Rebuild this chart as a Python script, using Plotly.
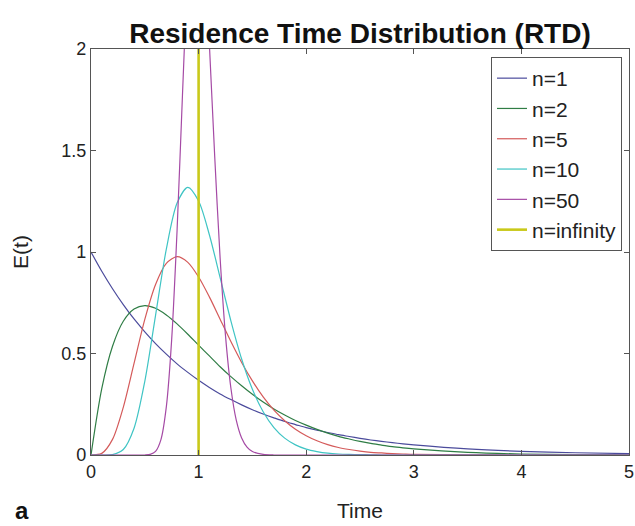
import plotly.graph_objects as go

# Time samples for the tanks-in-series curves
t_grid = [0.0, 0.1, 0.2, 0.3, 0.4, 0.5, 0.6, 0.7, 0.8, 0.9, 1.0,
          1.1, 1.2, 1.3, 1.4, 1.5, 1.6, 1.7, 1.8, 1.9, 2.0,
          2.1, 2.2, 2.3, 2.4, 2.5, 2.6, 2.7, 2.8, 2.9, 3.0,
          3.5, 4.0, 4.5, 5.0]

e_n1 = [1.000, 0.905, 0.819, 0.741, 0.670, 0.607, 0.549, 0.497, 0.449, 0.407, 0.368,
        0.333, 0.301, 0.273, 0.247, 0.223, 0.202, 0.183, 0.165, 0.150, 0.135,
        0.122, 0.111, 0.100, 0.091, 0.082, 0.074, 0.067, 0.061, 0.055, 0.050,
        0.030, 0.018, 0.011, 0.007]

e_n2 = [0.000, 0.327, 0.536, 0.659, 0.719, 0.736, 0.723, 0.690, 0.646, 0.595, 0.541,
        0.488, 0.435, 0.386, 0.341, 0.299, 0.261, 0.227, 0.197, 0.170, 0.147,
        0.126, 0.108, 0.092, 0.079, 0.067, 0.057, 0.049, 0.041, 0.035, 0.030,
        0.013, 0.005, 0.002, 0.001]

e_n5 = [0.000, 0.008, 0.077, 0.235, 0.451, 0.668, 0.840, 0.944, 0.977, 0.949, 0.877,
        0.779, 0.669, 0.559, 0.456, 0.365, 0.286, 0.221, 0.169, 0.127, 0.095,
        0.070, 0.051, 0.037, 0.027, 0.019, 0.013, 0.010, 0.007, 0.005, 0.003,
        0.001, 0.000, 0.000, 0.000]

e_n10 = [0.000, 0.000, 0.002, 0.027, 0.132, 0.363, 0.688, 1.014, 1.241, 1.318, 1.251,
         1.085, 0.874, 0.661, 0.473, 0.324, 0.213, 0.135, 0.083, 0.050, 0.029,
         0.017, 0.009, 0.005, 0.003, 0.002, 0.001, 0.000, 0.000, 0.000, 0.000,
         0.000, 0.000, 0.000, 0.000]

# The n=50 curve is much narrower, so it gets its own finer time samples
t_n50 = [0.0, 0.4, 0.5, 0.55, 0.6, 0.65, 0.7, 0.75, 0.8, 0.85, 0.9, 0.95, 1.0,
         1.05, 1.1, 1.15, 1.2, 1.25, 1.3, 1.35, 1.4, 1.45, 1.5, 1.6, 1.7, 1.8, 5.0]
e_n50 = [0.000, 0.000, 0.000, 0.003, 0.018, 0.076, 0.237, 0.571, 1.107, 1.772, 2.394,
         2.779, 2.817, 2.525, 2.025, 1.468, 0.970, 0.588, 0.330, 0.172, 0.084,
         0.039, 0.017, 0.003, 0.000, 0.000, 0.000]

# Plug flow (n = infinity): a spike at the mean residence time
t_inf = [1.0, 1.0]
e_inf = [0.0, 2.0]

series_names = ["n=1", "n=2", "n=5", "n=10", "n=50", "n=infinity"]
series_x = [t_grid, t_grid, t_grid, t_grid, t_n50, t_inf]
series_y = [e_n1, e_n2, e_n5, e_n10, e_n50, e_inf]
series_colors = ["#4b4b9c", "#2f7d45", "#d45a5a", "#3fc4c4", "#a54aa5", "#c9c91a"]
series_widths = [1.2, 1.2, 1.2, 1.2, 1.2, 2.6]

x_ticks = [0, 1, 2, 3, 4, 5]
y_ticks = [0, 0.5, 1, 1.5, 2]
y_tick_text = ["0", "0.5", "1", "1.5", "2"]

W, H = 635, 526
L, R, T, B = 91, 6, 49, 71
PW, PH = W - L - R, H - T - B


def px_to_paper(px, py):
    return (px - L) / PW, (H - B - py) / PH


FONT = "Liberation Sans, Arial, Helvetica, sans-serif"

fig = go.Figure()
for i, (name, xs, ys, col, lw) in enumerate(
        zip(series_names, series_x, series_y, series_colors, series_widths)):
    fig.add_trace(go.Scatter(
        x=xs, y=ys, mode="lines", name=name,
        legendgroup=f"g{i}",
        line=dict(color=col, width=lw,
                  shape="linear" if name == "n=infinity" else "spline",
                  smoothing=0.8),
    ))

axis_common = dict(
    showline=True, linecolor="#555555", linewidth=1.2, mirror="ticks",
    ticks="inside", ticklen=5, tickcolor="#555555", tickwidth=1,
    showgrid=False, zeroline=False,
    tickfont=dict(family=FONT, size=18, color="#222222"),
    ticklabeloverflow="allow",
    automargin=False,
)

fig.update_layout(
    width=W, height=H,
    margin=dict(l=L, r=R, t=T, b=B, autoexpand=False),
    paper_bgcolor="white", plot_bgcolor="white",
    title=dict(text="Residence Time Distribution (RTD)",
               x=(L + PW / 2) / W, xanchor="center",
               y=1 - 33 / H, yanchor="middle", yref="container",
               font=dict(family=FONT, size=28, color="#111111", weight="bold")),
    xaxis=dict(range=[0, 5], tickvals=x_ticks,
               title=dict(text="Time", font=dict(family=FONT, size=21, color="#222222"),
                          standoff=22),
               **axis_common),
    yaxis=dict(range=[0, 2], tickvals=y_ticks, ticktext=y_tick_text,
               title=dict(text="E(t)", font=dict(family=FONT, size=21, color="#222222"),
                          standoff=26),
               **axis_common),
    legend=dict(
        x=px_to_paper(622, 57)[0], xanchor="right",
        y=px_to_paper(622, 57)[1], yanchor="top",
        bgcolor="white", bordercolor="#555555", borderwidth=1,
        font=dict(family=FONT, size=21, color="#222222"),
        tracegroupgap=0,
    ),
    showlegend=True,
)

ax, ay = px_to_paper(22, 510)
fig.add_annotation(text="<b>a</b>", x=ax, y=ay, xref="paper", yref="paper",
                   showarrow=False, xanchor="center", yanchor="middle",
                   font=dict(family=FONT, size=24, color="#111111"))

fig.write_html("out.html")
